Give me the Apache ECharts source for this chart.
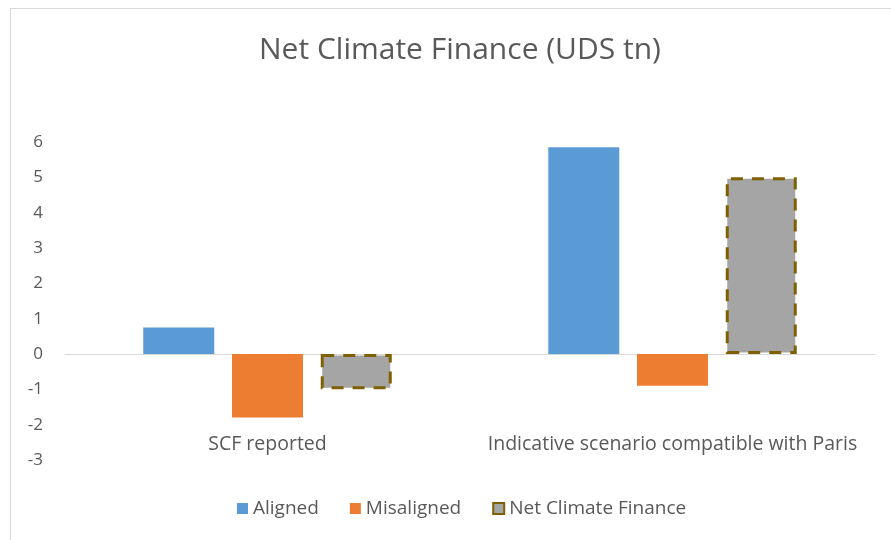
<!DOCTYPE html>
<html>
<head>
<meta charset="utf-8">
<script src="https://cdn.jsdelivr.net/npm/echarts@6/dist/echarts.min.js"></script>
<style>
  html, body { margin: 0; padding: 0; background: #ffffff; }
  #frame {
    position: absolute; left: 10px; top: 8px; width: 881px; height: 532px;
    border-left: 1px solid #d9d9d9; border-top: 1px solid #d9d9d9;
  }
  #chart { position: absolute; left: 0; top: 0; width: 891px; height: 540px; }
</style>
</head>
<body>
<div id="frame"></div>
<div id="chart"></div>
<script>
const CATEGORIES = ['SCF reported', 'Indicative scenario compatible with Paris']
const ALIGNED = [0.75, 5.85]
const MISALIGNED = [-1.8, -0.9]
const NET = [-1.0, 5.0]

const TEXT = '#595959'
const FONT = '"Open Sans", Lato, sans-serif'

const chart = echarts.init(document.getElementById('chart'))

const option = {
  animation: false,
  title: {
    text: 'Net Climate Finance (UDS tn)',
    left: 254,
    top: 30,
    textStyle: { color: TEXT, fontFamily: FONT, fontSize: 30, fontWeight: 'normal' },
  },
  legend: {
    top: 494,
    left: 232,
    itemWidth: 11,
    itemHeight: 11,
    itemGap: 31,
    textStyle: { color: TEXT, fontFamily: FONT, fontSize: 19 },
    data: [
      { name: 'Aligned', icon: 'rect' },
      { name: 'Misaligned', icon: 'rect' },
      { name: 'Net Climate Finance', icon: 'rect' },
    ],
  },
  grid: { left: 65, right: 16, top: 142, bottom: 80, containLabel: false, outerBoundsMode: 'none' },
  xAxis: [
    {
      // zero line
      type: 'category',
      data: CATEGORIES,
      axisLine: { onZero: true, lineStyle: { color: '#d9d9d9', width: 1 } },
      axisTick: { show: false },
      axisLabel: { show: false },
    },
    {
      // category labels
      type: 'category',
      data: CATEGORIES,
      position: 'bottom',
      axisLine: { show: false, onZero: false },
      axisTick: { show: false },
      axisLabel: { color: TEXT, fontFamily: FONT, fontSize: 19.5, interval: 0, margin: -26 },
    },
  ],
  yAxis: {
    type: 'value',
    min: -3,
    max: 6,
    interval: 1,
    axisLine: { show: false },
    axisTick: { show: false },
    splitLine: { show: false },
    axisLabel: { color: TEXT, fontFamily: FONT, fontSize: 17, margin: 22 },
  },
  series: [
    {
      name: 'Aligned',
      type: 'bar',
      data: ALIGNED,
      barWidth: 71,
      barGap: '25%',
      itemStyle: { color: '#5b9bd5' },
    },
    {
      name: 'Misaligned',
      type: 'bar',
      data: MISALIGNED,
      barWidth: 71,
      barGap: '25%',
      itemStyle: { color: '#ed7d31' },
    },
    {
      name: 'Net Climate Finance',
      type: 'bar',
      data: NET,
      barWidth: 71,
      barGap: '25%',
      itemStyle: {
        color: '#a5a5a5',
        borderColor: '#7f6000',
        borderWidth: 3,
        borderType: [12, 9],
      },
    },
  ],
}

chart.setOption(option)
</script>
</body>
</html>
